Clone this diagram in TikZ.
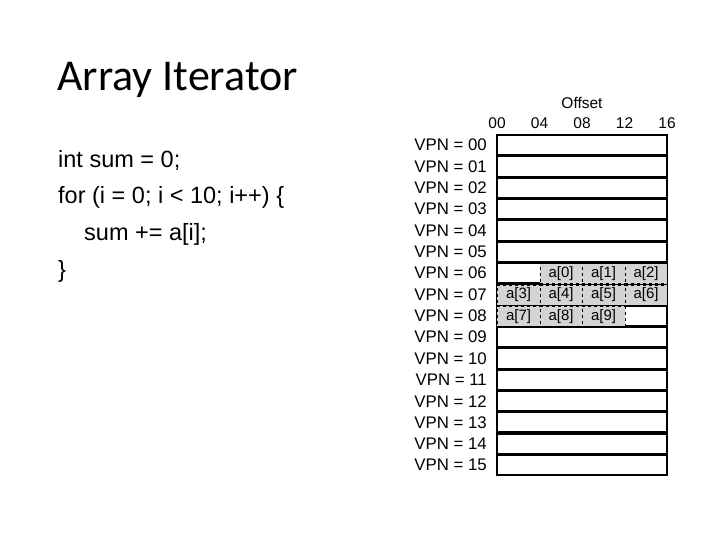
\documentclass[tikz,border=0pt]{standalone}
\usepackage{fontspec}
\setmainfont{Carlito}
\newfontfamily\arial{Liberation Sans}
\begin{document}
\begin{tikzpicture}[x=1pt,y=-1pt,
  rowbox/.style={draw=black,line width=1.6pt,fill=white},
  cellbox/.style={draw=black,dashed,line width=0.6pt,fill=black!17,minimum width=42.5pt,minimum height=20pt,inner sep=0pt,anchor=north west,font=\arial\fontsize{15}{15}\selectfont},
  lbl/.style={font=\arial\fontsize{16.8}{17}\selectfont,anchor=east,inner sep=0pt},
  code/.style={font=\arial\fontsize{23.5}{24}\selectfont,anchor=west,inner sep=0pt}]
\useasboundingbox (0,0) rectangle (720,540);
\node[anchor=west,inner sep=0pt,font=\fontsize{44}{46}\selectfont] (title) at (57,80) {Array Iterator};
\node[code] (c1) at (58,160) {int sum = 0;};
\node[code] (c2) at (58,197) {for (i = 0; i < 10; i++) \{};
\node[code] (c3) at (84,234) {sum += a[i];};
\node[code] (c4) at (58,271) {\}};
\node[font=\arial\fontsize{15.5}{15.5}\selectfont,inner sep=0pt] (off) at (582,103) {Offset};
\foreach \t [count=\i from 0] in {00,04,08,12,16}
  \node[font=\arial\fontsize{15.5}{15.5}\selectfont,inner sep=0pt] (o\i) at (497+42.5*\i,123) {\t};
\foreach \r in {0,...,15}{
  \pgfmathsetmacro{\yt}{134.5+21.33*\r}
  \draw[rowbox] (497,\yt+0.8) rectangle (667,\yt+20.5);
  \pgfmathtruncatemacro{\rr}{\r}
  \node[lbl] (v\r) at (487,\yt+10.7) {VPN = \ifnum\rr<10 0\fi\rr};
}
\foreach \c/\r/\t in {1/6/a[0],2/6/a[1],3/6/a[2],0/7/a[3],1/7/a[4],2/7/a[5],3/7/a[6],0/8/a[7],1/8/a[8],2/8/a[9]}
  \node[cellbox] (cell\t) at (497+42.5*\c,134.5+21.33*\r+0.8) {\t};
\end{tikzpicture}
\end{document}
